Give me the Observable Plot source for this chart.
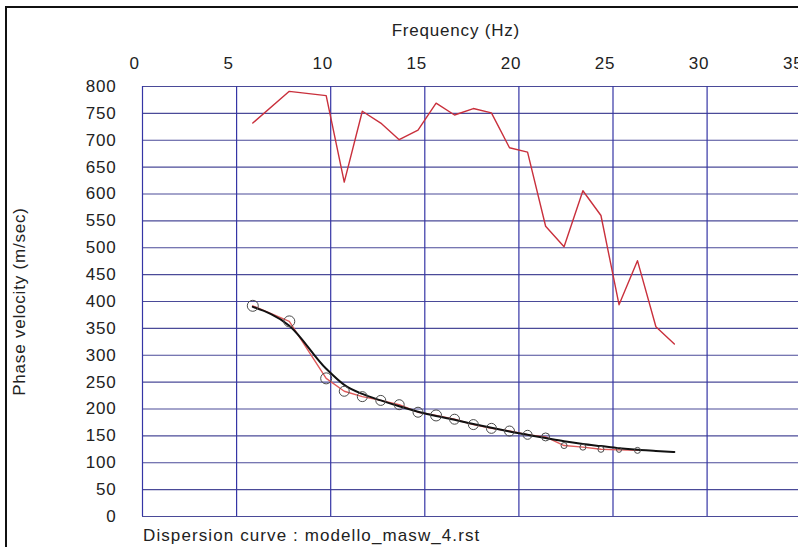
<!DOCTYPE html>
<html>
<head>
<meta charset="utf-8">
<script src="https://cdn.jsdelivr.net/npm/d3@7"></script>
<script src="https://cdn.jsdelivr.net/npm/@observablehq/plot@0.6"></script>
<style>
  html, body { margin: 0; padding: 0; background: #fff; }
  #wrap { position: relative; width: 798px; height: 547px; overflow: hidden; background: #fff; }
  #frame { position: absolute; left: 5px; top: 6px; width: 1000px; height: 1000px;
           border-left: 2.5px solid #111; border-top: 2.5px solid #111; pointer-events: none; }
  #chart { position: absolute; left: 0; top: 0; }
  #caption { position: absolute; left: 143px; top: 526px; font: 17px "Liberation Sans", Arial, sans-serif;
             letter-spacing: 1.1px; line-height: 20px; color: #222; white-space: nowrap; }
</style>
</head>
<body>
<div id="wrap">
  <div id="chart"></div>
  <div id="frame"></div>
  <div id="caption"></div>
</div>
<script>
// Frequencies (Hz) of the picked points
const freq = [5.86, 7.8, 9.76, 10.72, 11.68, 12.66, 13.64, 14.64, 15.6, 16.58, 17.58,
              18.54, 19.5, 20.46, 21.42, 22.4, 23.4, 24.36, 25.32, 26.3, 27.28, 28.26];
// Upper red curve (m/sec)
const upperVel = [732, 791, 783, 622, 754, 732, 701, 719, 769, 747, 759,
                  751, 686, 678, 540, 502, 606, 560, 394, 476, 353, 321];
// Experimental dispersion curve (red with circles), first 20 frequencies
const expVel = [392, 363, 257, 233, 223, 216, 208, 194, 188, 181, 171,
                164, 159, 152, 148, 132, 129, 125, 124, 123];
// Circle radii (marker size per point)
const circleR = [5.5, 5.5, 5.5, 5, 5, 5, 5, 5, 5.5, 5, 5, 5, 5, 4.5, 4, 3, 3, 3, 2.5, 3];
// Theoretical (black) curve
const theoVel = [390, 355, 275, 245, 228, 216, 205, 195, 187, 180, 172,
                 165, 158, 152, 146, 140, 135, 131, 127, 124, 122, 120];
const xTicks = [0, 5, 10, 15, 20, 25, 30, 35];
const yTicks = [0, 50, 100, 150, 200, 250, 300, 350, 400, 450, 500, 550, 600, 650, 700, 750, 800];
const xTitle = "Frequency (Hz)";
const yTitle = "Phase velocity (m/sec)";
const caption = "Dispersion curve : modello_masw_4.rst";

const upper = freq.map((f, i) => ({f, v: upperVel[i]}));
const exp = expVel.map((v, i) => ({f: freq[i], v, r: circleR[i]}));
const theo = freq.map((f, i) => ({f, v: theoVel[i]}));

const chart = Plot.plot({
  width: 798,
  height: 526,
  marginLeft: 142,
  marginRight: -2.7,
  marginTop: 86,
  marginBottom: 10,
  x: {domain: [0, 35]},
  y: {domain: [0, 800]},
  r: {type: "identity"},
  style: {fontFamily: "'Liberation Sans', Arial, sans-serif", fontSize: "17px", color: "#222",
          background: "transparent", letterSpacing: "0.8px"},
  marks: [
    Plot.ruleY(yTicks, {stroke: "#4a4a98", strokeWidth: 1.2}),
    Plot.ruleX(xTicks, {stroke: "#3535a5", strokeWidth: 1.2}),
    Plot.axisX({anchor: "top", ticks: xTicks, tickSize: 0, tickPadding: 18, dx: -8, label: null}),
    Plot.axisY({anchor: "left", ticks: yTicks, tickSize: 0, tickPadding: 26, label: null}),
    Plot.text([xTitle], {frameAnchor: "top", dy: -63, dx: -16}),
    Plot.text([yTitle], {frameAnchor: "left", textAnchor: "middle", rotate: -90, dx: -123}),
    Plot.line(upper, {x: "f", y: "v", stroke: "#c9303c", strokeWidth: 1.4}),
    Plot.line(exp, {x: "f", y: "v", stroke: "#e05a5a", strokeWidth: 1.4}),
    Plot.line(theo, {x: "f", y: "v", stroke: "#111", strokeWidth: 2, curve: "monotone-x"}),
    Plot.dot(exp, {x: "f", y: "v", r: "r", stroke: "#4a4a4a", strokeWidth: 1, fill: "none"})
  ]
});
document.getElementById("chart").appendChild(chart);
document.getElementById("caption").textContent = caption;
</script>
</body>
</html>
